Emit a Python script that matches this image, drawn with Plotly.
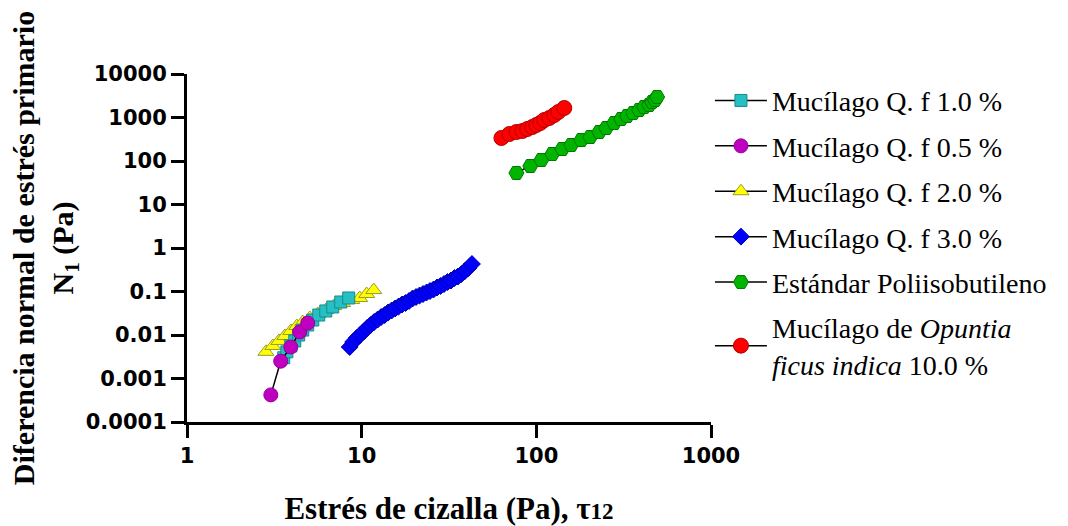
import plotly.graph_objects as go

# ---- data ----
cyan_x = [3.58, 3.73, 3.93, 4.14, 4.36, 4.60, 4.91, 5.25, 5.68, 6.23, 6.83, 7.59, 8.43]
cyan_y = [0.0030, 0.0041, 0.0056, 0.0073, 0.0100, 0.0130, 0.0170, 0.0221, 0.0288, 0.0357, 0.0441, 0.0574, 0.0710]

mag_x = [3.02, 3.44, 3.93, 4.42, 4.91]
mag_y = [0.00042, 0.0025, 0.0053, 0.0117, 0.0189]

yel_x = [2.83, 3.10, 3.36, 3.63, 3.93, 4.25, 4.60, 5.05, 5.61, 6.23, 6.92, 7.78, 8.77, 9.74, 10.68, 11.72]
yel_y = [0.0041, 0.0056, 0.0073, 0.0095, 0.0124, 0.0161, 0.0199, 0.0246, 0.0304, 0.0376, 0.0465, 0.0545, 0.0639, 0.0710, 0.0877, 0.108]

blue_x = [8.54, 8.94, 9.36, 9.80, 10.27, 10.75, 11.26, 11.79, 12.35, 12.93, 13.54, 14.17,
          14.84, 15.54, 16.27, 17.03, 17.84, 18.68, 19.56, 20.48, 21.45, 22.46, 23.52, 24.62,
          25.79, 27.00, 28.27, 29.61, 31.00, 32.46, 33.99, 35.59, 37.27, 39.03, 40.87, 42.79]
blue_y = [0.0053, 0.0069, 0.0085, 0.0100, 0.0120, 0.0145, 0.0170, 0.0199, 0.0227, 0.0259, 0.0288, 0.0329,
          0.0366, 0.0407, 0.0452, 0.0503, 0.0544, 0.0605, 0.0690, 0.0747, 0.0809, 0.0876, 0.0948, 0.1027,
          0.1112, 0.1236, 0.1338, 0.1487, 0.1654, 0.1790, 0.2043, 0.2212, 0.2525, 0.2960, 0.3468, 0.4287]

green_x = [76.9, 92.4, 106.8, 123.4, 140.8, 158.5, 180.8, 203.5, 229.1, 251.2,
           279.1, 305.9, 331.1, 358.3, 387.8, 414.1, 442.3, 460.2, 478.6, 491.4]
green_y = [53.0, 76.8, 105.4, 144.8, 188.7, 233.2, 304.0, 356.1, 464.2, 573.6,
           747.4, 923.6, 1083, 1269, 1487, 1743, 1939, 2272, 2525, 2960]

red_x = [63.1, 70.1, 76.9, 83.2, 88.8, 94.9, 100.0, 105.4, 111.1, 118.7, 126.7, 133.6, 144.5]
red_y = [337.8, 417.6, 464.2, 489.5, 543.8, 604.6, 672.3, 747.4, 876.0, 973.9, 1141, 1338, 1654]

x_ticks = [1, 10, 100, 1000]
x_ticktext = ["1", "10", "100", "1000"]
y_ticks = [0.0001, 0.001, 0.01, 0.1, 1, 10, 100, 1000, 10000]
y_ticktext = ["0.0001", "0.001", "0.01", "0.1", "1", "10", "100", "1000", "10000"]

names = {
    "cyan": "Mucílago Q. f 1.0 %",
    "mag": "Mucílago Q. f 0.5 %",
    "yel": "Mucílago Q. f 2.0 %",
    "blue": "Mucílago Q. f 3.0 %",
    "green": "Estándar Poliisobutileno",
    "red": "Mucílago de <i>Opuntia</i><br><i>ficus indica</i> 10.0 %",
}

fig = go.Figure()


def add(key, xs, ys, symbol, size, fill, edge, rank):
    fig.add_trace(go.Scatter(
        x=xs, y=ys, mode="lines+markers", name=names[key],
        legendgroup=key, legendrank=rank,
        line=dict(color="black", width=1.5),
        marker=dict(symbol=symbol, size=size, color=fill,
                    line=dict(color=edge, width=1)),
    ))


# drawing order: yellow under cyan, magenta on top
add("yel", yel_x, yel_y, "triangle-up", 14, "#FFFF00", "#9A9A30", 3)
add("cyan", cyan_x, cyan_y, "square", 12, "#26C0C4", "#178A8C", 1)
add("mag", mag_x, mag_y, "circle", 14, "#C000C0", "#960096", 2)
add("blue", blue_x, blue_y, "diamond", 13, "#0000FF", "#0000B0", 4)
add("green", green_x, green_y, "hexagon2", 15, "#00B400", "#007800", 5)
add("red", red_x, red_y, "circle", 15, "#FF0000", "#B00000", 6)

axis_common = dict(
    type="log", showline=True, linecolor="black", linewidth=3,
    ticks="outside", ticklen=13, tickwidth=3, tickcolor="black",
    showgrid=False, zeroline=False, mirror=False, automargin=False,
    tickfont=dict(family="DejaVu Sans", size=21, color="black", weight="bold"),
)

fig.update_xaxes(
    **axis_common, range=[0, 3], tickvals=x_ticks, ticktext=x_ticktext,
    title=dict(text="Estrés de cizalla (Pa), τ<span style='font-size:23px'>12</span>",
               font=dict(family="Liberation Serif", size=31, color="black", weight="bold"),
               standoff=36),
)
fig.update_yaxes(
    **axis_common, range=[-4, 4], tickvals=y_ticks, ticktext=y_ticktext,
    title=dict(text="Diferencia normal de estrés primario<br>N<sub>1</sub> (Pa)",
               font=dict(family="Liberation Serif", size=30, color="black", weight="bold"),
               standoff=4),
)

fig.update_layout(
    width=1068, height=526,
    margin=dict(l=187, r=357, t=74, b=104),
    paper_bgcolor="white", plot_bgcolor="white",
    showlegend=True,
    legend=dict(
        x=0.998, y=0.995, xanchor="left", yanchor="top",
        font=dict(family="Liberation Serif", size=28, color="black"),
        tracegroupgap=6, itemwidth=52, bgcolor="rgba(0,0,0,0)",
    ),
)

fig.write_html("out.html")
